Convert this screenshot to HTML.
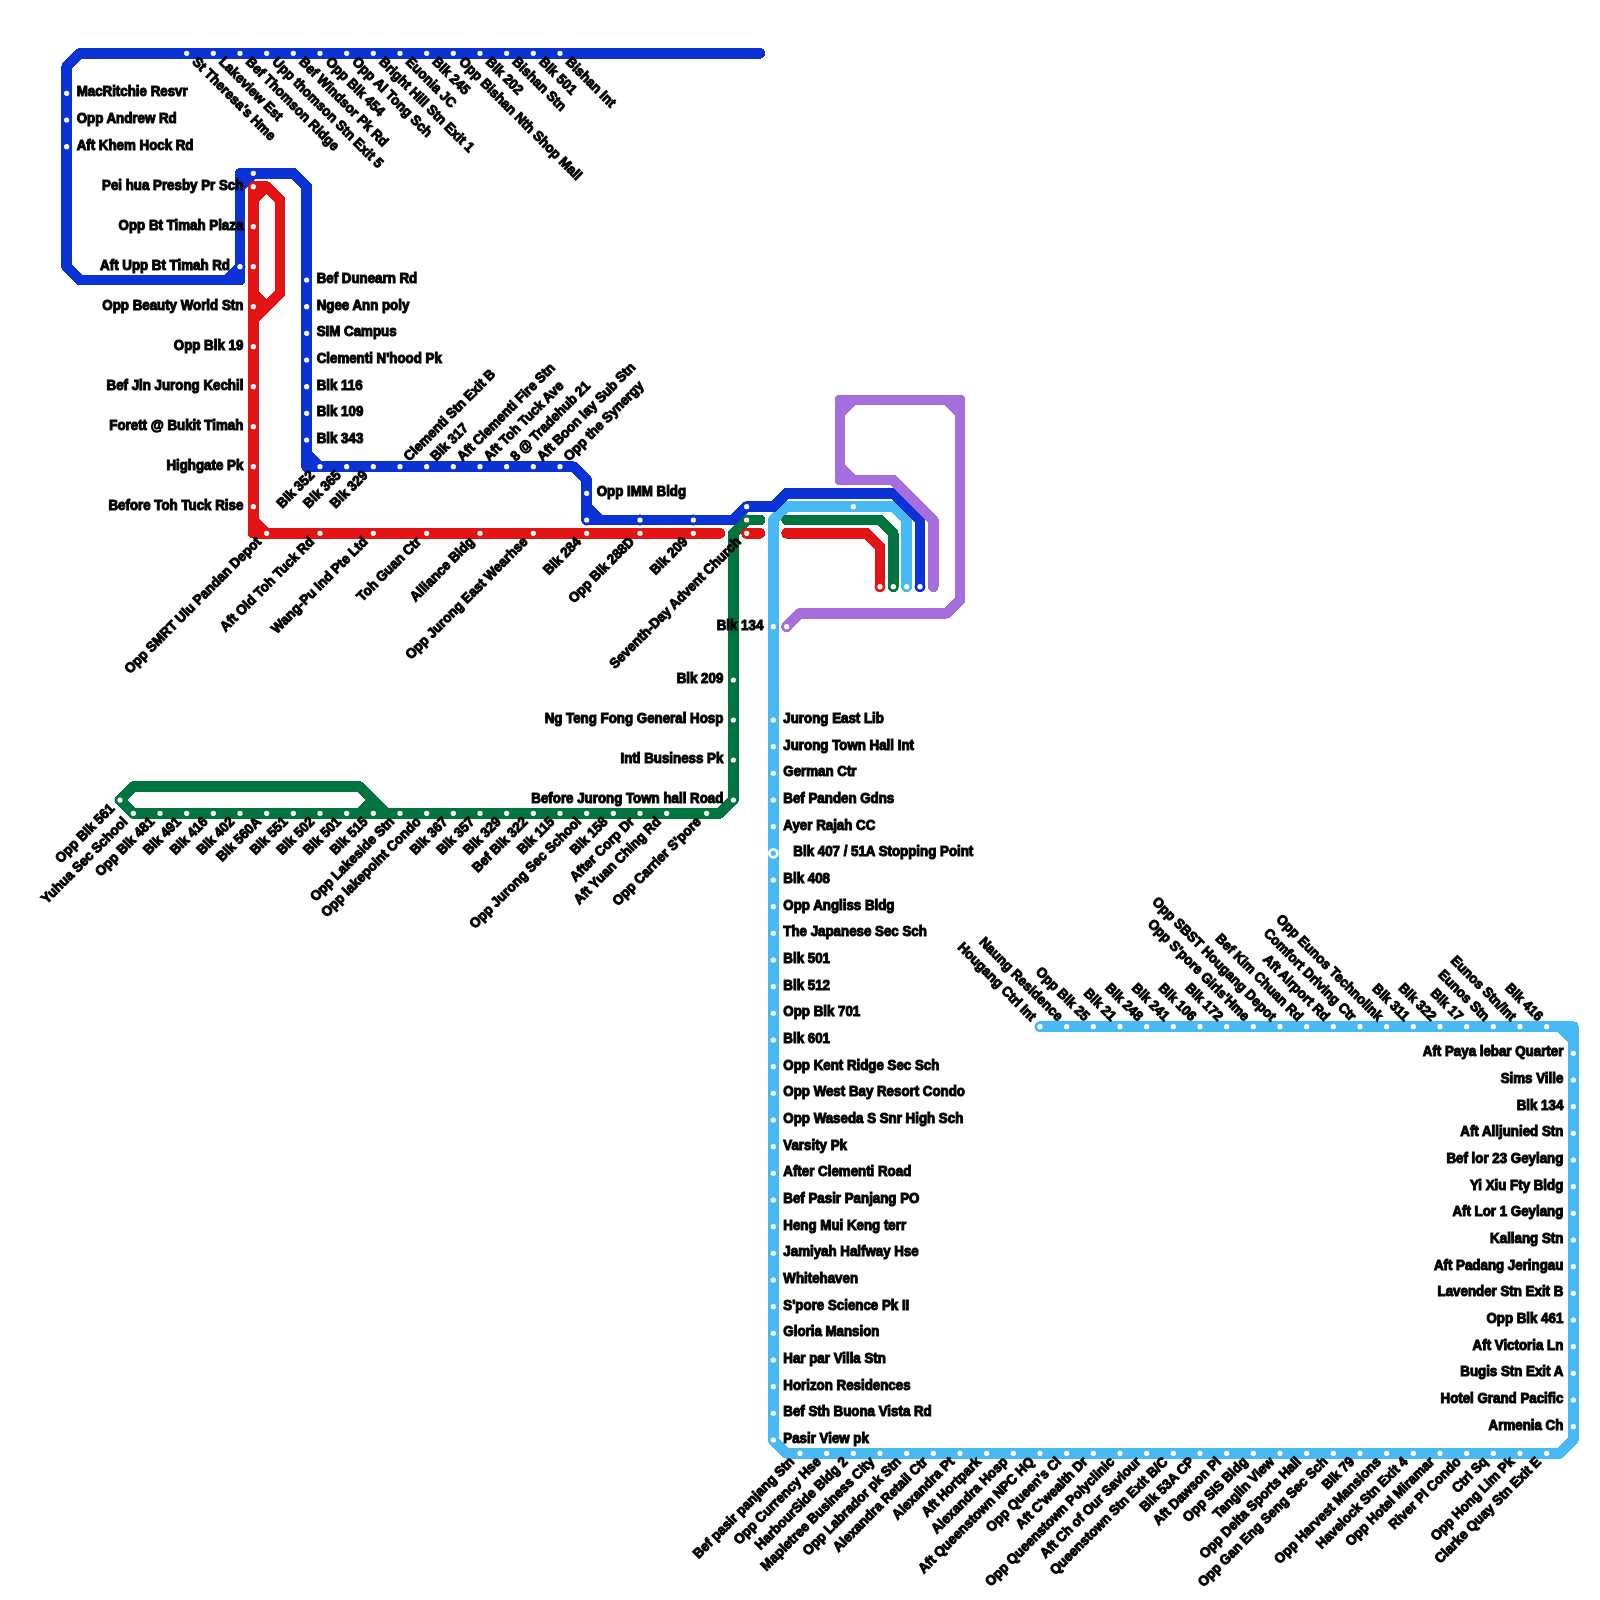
<!DOCTYPE html><html><head><meta charset="utf-8"><style>html,body{margin:0;padding:0;background:#fff;width:1600px;height:1600px;overflow:hidden}svg{display:block}text{font-family:"Liberation Sans",sans-serif;font-weight:700;font-size:13.33px;fill:#000;stroke:#000;stroke-width:1.0}</style></head><body>
<svg width="1600" height="1600" viewBox="0 0 1600 1600">
<rect width="1600" height="1600" fill="#fff"/>
<path d="M773.33 520L773.33 533.33M773.33 520L786.67 506.67M773.33 533.33L773.33 546.67M773.33 546.67L773.33 560M773.33 560L773.33 573.33M773.33 573.33L773.33 586.67M773.33 586.67L773.33 600M773.33 600L773.33 613.33M773.33 613.33L773.33 626.67M773.33 626.67L773.33 640M773.33 640L773.33 653.33M773.33 653.33L773.33 666.67M773.33 666.67L773.33 680M773.33 680L773.33 693.33M773.33 693.33L773.33 706.67M773.33 706.67L773.33 720M773.33 720L773.33 733.33M773.33 733.33L773.33 746.67M773.33 746.67L773.33 760M773.33 760L773.33 773.33M773.33 773.33L773.33 786.67M773.33 786.67L773.33 800M773.33 800L773.33 813.33M773.33 813.33L773.33 826.67M773.33 826.67L773.33 840M773.33 840L773.33 853.33M773.33 853.33L773.33 866.67M773.33 866.67L773.33 880M773.33 880L773.33 893.33M773.33 893.33L773.33 906.67M773.33 906.67L773.33 920M773.33 920L773.33 933.33M773.33 933.33L773.33 946.67M773.33 946.67L773.33 960M773.33 960L773.33 973.33M773.33 973.33L773.33 986.67M773.33 986.67L773.33 1000M773.33 1000L773.33 1013.33M773.33 1013.33L773.33 1026.67M773.33 1026.67L773.33 1040M773.33 1040L773.33 1053.33M773.33 1053.33L773.33 1066.67M773.33 1066.67L773.33 1080M773.33 1080L773.33 1093.33M773.33 1093.33L773.33 1106.67M773.33 1106.67L773.33 1120M773.33 1120L773.33 1133.33M773.33 1133.33L773.33 1146.67M773.33 1146.67L773.33 1160M773.33 1160L773.33 1173.33M773.33 1173.33L773.33 1186.67M773.33 1186.67L773.33 1200M773.33 1200L773.33 1213.33M773.33 1213.33L773.33 1226.67M773.33 1226.67L773.33 1240M773.33 1240L773.33 1253.33M773.33 1253.33L773.33 1266.67M773.33 1266.67L773.33 1280M773.33 1280L773.33 1293.33M773.33 1293.33L773.33 1306.67M773.33 1306.67L773.33 1320M773.33 1320L773.33 1333.33M773.33 1333.33L773.33 1346.67M773.33 1346.67L773.33 1360M773.33 1360L773.33 1373.33M773.33 1373.33L773.33 1386.67M773.33 1386.67L773.33 1400M773.33 1400L773.33 1413.33M773.33 1413.33L773.33 1426.67M773.33 1426.67L773.33 1440M773.33 1440L786.67 1453.33M786.67 506.67L800 506.67M786.67 1453.33L800 1453.33M800 506.67L813.33 506.67M800 1453.33L813.33 1453.33M813.33 506.67L826.67 506.67M813.33 1453.33L826.67 1453.33M826.67 506.67L840 506.67M826.67 1453.33L840 1453.33M840 506.67L853.33 506.67M840 1453.33L853.33 1453.33M853.33 506.67L866.67 506.67M853.33 1453.33L866.67 1453.33M866.67 506.67L880 506.67M866.67 1453.33L880 1453.33M880 506.67L893.33 506.67M880 1453.33L893.33 1453.33M893.33 506.67L906.67 520M893.33 1453.33L906.67 1453.33M906.67 520L906.67 533.33M906.67 533.33L906.67 546.67M906.67 546.67L906.67 560M906.67 560L906.67 573.33M906.67 573.33L906.67 586.67M906.67 1453.33L920 1453.33M920 1453.33L933.33 1453.33M933.33 1453.33L946.67 1453.33M946.67 1453.33L960 1453.33M960 1453.33L973.33 1453.33M973.33 1453.33L986.67 1453.33M986.67 1453.33L1000 1453.33M1000 1453.33L1013.33 1453.33M1013.33 1453.33L1026.67 1453.33M1026.67 1453.33L1040 1453.33M1040 1026.67L1053.33 1026.67M1040 1453.33L1053.33 1453.33M1053.33 1026.67L1066.67 1026.67M1053.33 1453.33L1066.67 1453.33M1066.67 1026.67L1080 1026.67M1066.67 1453.33L1080 1453.33M1080 1026.67L1093.33 1026.67M1080 1453.33L1093.33 1453.33M1093.33 1026.67L1106.67 1026.67M1093.33 1453.33L1106.67 1453.33M1106.67 1026.67L1120 1026.67M1106.67 1453.33L1120 1453.33M1120 1026.67L1133.33 1026.67M1120 1453.33L1133.33 1453.33M1133.33 1026.67L1146.67 1026.67M1133.33 1453.33L1146.67 1453.33M1146.67 1026.67L1160 1026.67M1146.67 1453.33L1160 1453.33M1160 1026.67L1173.33 1026.67M1160 1453.33L1173.33 1453.33M1173.33 1026.67L1186.67 1026.67M1173.33 1453.33L1186.67 1453.33M1186.67 1026.67L1200 1026.67M1186.67 1453.33L1200 1453.33M1200 1026.67L1213.33 1026.67M1200 1453.33L1213.33 1453.33M1213.33 1026.67L1226.67 1026.67M1213.33 1453.33L1226.67 1453.33M1226.67 1026.67L1240 1026.67M1226.67 1453.33L1240 1453.33M1240 1026.67L1253.33 1026.67M1240 1453.33L1253.33 1453.33M1253.33 1026.67L1266.67 1026.67M1253.33 1453.33L1266.67 1453.33M1266.67 1026.67L1280 1026.67M1266.67 1453.33L1280 1453.33M1280 1026.67L1293.33 1026.67M1280 1453.33L1293.33 1453.33M1293.33 1026.67L1306.67 1026.67M1293.33 1453.33L1306.67 1453.33M1306.67 1026.67L1320 1026.67M1306.67 1453.33L1320 1453.33M1320 1026.67L1333.33 1026.67M1320 1453.33L1333.33 1453.33M1333.33 1026.67L1346.67 1026.67M1333.33 1453.33L1346.67 1453.33M1346.67 1026.67L1360 1026.67M1346.67 1453.33L1360 1453.33M1360 1026.67L1373.33 1026.67M1360 1453.33L1373.33 1453.33M1373.33 1026.67L1386.67 1026.67M1373.33 1453.33L1386.67 1453.33M1386.67 1026.67L1400 1026.67M1386.67 1453.33L1400 1453.33M1400 1026.67L1413.33 1026.67M1400 1453.33L1413.33 1453.33M1413.33 1026.67L1426.67 1026.67M1413.33 1453.33L1426.67 1453.33M1426.67 1026.67L1440 1026.67M1426.67 1453.33L1440 1453.33M1440 1026.67L1453.33 1026.67M1440 1453.33L1453.33 1453.33M1453.33 1026.67L1466.67 1026.67M1453.33 1453.33L1466.67 1453.33M1466.67 1026.67L1480 1026.67M1466.67 1453.33L1480 1453.33M1480 1026.67L1493.33 1026.67M1480 1453.33L1493.33 1453.33M1493.33 1026.67L1506.67 1026.67M1493.33 1453.33L1506.67 1453.33M1506.67 1026.67L1520 1026.67M1506.67 1453.33L1520 1453.33M1520 1026.67L1533.33 1026.67M1520 1453.33L1533.33 1453.33M1533.33 1026.67L1546.67 1026.67M1533.33 1453.33L1546.67 1453.33M1546.67 1026.67L1560 1026.67M1546.67 1453.33L1560 1453.33M1560 1026.67L1573.33 1026.67M1560 1026.67L1573.33 1040M1560 1453.33L1573.33 1440M1573.33 1026.67L1573.33 1040M1573.33 1040L1573.33 1053.33M1573.33 1053.33L1573.33 1066.67M1573.33 1066.67L1573.33 1080M1573.33 1080L1573.33 1093.33M1573.33 1093.33L1573.33 1106.67M1573.33 1106.67L1573.33 1120M1573.33 1120L1573.33 1133.33M1573.33 1133.33L1573.33 1146.67M1573.33 1146.67L1573.33 1160M1573.33 1160L1573.33 1173.33M1573.33 1173.33L1573.33 1186.67M1573.33 1186.67L1573.33 1200M1573.33 1200L1573.33 1213.33M1573.33 1213.33L1573.33 1226.67M1573.33 1226.67L1573.33 1240M1573.33 1240L1573.33 1253.33M1573.33 1253.33L1573.33 1266.67M1573.33 1266.67L1573.33 1280M1573.33 1280L1573.33 1293.33M1573.33 1293.33L1573.33 1306.67M1573.33 1306.67L1573.33 1320M1573.33 1320L1573.33 1333.33M1573.33 1333.33L1573.33 1346.67M1573.33 1346.67L1573.33 1360M1573.33 1360L1573.33 1373.33M1573.33 1373.33L1573.33 1386.67M1573.33 1386.67L1573.33 1400M1573.33 1400L1573.33 1413.33M1573.33 1413.33L1573.33 1426.67M1573.33 1426.67L1573.33 1440" stroke="#47baf6" stroke-width="10.67" stroke-linecap="round" fill="none" shape-rendering="crispEdges"/>
<path d="M253.33 186.67L253.33 200M253.33 186.67L266.67 186.67M253.33 200L253.33 213.33M253.33 200L266.67 186.67M253.33 213.33L253.33 226.67M253.33 226.67L253.33 240M253.33 240L253.33 253.33M253.33 253.33L253.33 266.67M253.33 266.67L253.33 280M253.33 280L253.33 293.33M253.33 293.33L253.33 306.67M253.33 293.33L266.67 306.67M253.33 306.67L253.33 320M253.33 306.67L266.67 306.67M253.33 320L253.33 333.33M253.33 320L266.67 306.67M253.33 333.33L253.33 346.67M253.33 346.67L253.33 360M253.33 360L253.33 373.33M253.33 373.33L253.33 386.67M253.33 386.67L253.33 400M253.33 400L253.33 413.33M253.33 413.33L253.33 426.67M253.33 426.67L253.33 440M253.33 440L253.33 453.33M253.33 453.33L253.33 466.67M253.33 466.67L253.33 480M253.33 480L253.33 493.33M253.33 493.33L253.33 506.67M253.33 506.67L253.33 520M253.33 520L253.33 533.33M253.33 520L266.67 533.33M253.33 533.33L266.67 533.33M266.67 186.67L280 200M266.67 306.67L280 293.33M266.67 533.33L280 533.33M280 200L280 213.33M280 213.33L280 226.67M280 226.67L280 240M280 240L280 253.33M280 253.33L280 266.67M280 266.67L280 280M280 280L280 293.33M280 533.33L293.33 533.33M293.33 533.33L306.67 533.33M306.67 533.33L320 533.33M320 533.33L333.33 533.33M333.33 533.33L346.67 533.33M346.67 533.33L360 533.33M360 533.33L373.33 533.33M373.33 533.33L386.67 533.33M386.67 533.33L400 533.33M400 533.33L413.33 533.33M413.33 533.33L426.67 533.33M426.67 533.33L440 533.33M440 533.33L453.33 533.33M453.33 533.33L466.67 533.33M466.67 533.33L480 533.33M480 533.33L493.33 533.33M493.33 533.33L506.67 533.33M506.67 533.33L520 533.33M520 533.33L533.33 533.33M533.33 533.33L546.67 533.33M546.67 533.33L560 533.33M560 533.33L573.33 533.33M573.33 533.33L586.67 533.33M586.67 533.33L600 533.33M600 533.33L613.33 533.33M613.33 533.33L626.67 533.33M626.67 533.33L640 533.33M640 533.33L653.33 533.33M653.33 533.33L666.67 533.33M666.67 533.33L680 533.33M680 533.33L693.33 533.33M693.33 533.33L706.67 533.33M706.67 533.33L720 533.33M746.67 533.33L760 533.33M786.67 533.33L800 533.33M800 533.33L813.33 533.33M813.33 533.33L826.67 533.33M826.67 533.33L840 533.33M840 533.33L853.33 533.33M853.33 533.33L866.67 533.33M866.67 533.33L880 546.67M880 546.67L880 560M880 560L880 573.33M880 573.33L880 586.67" stroke="#e41414" stroke-width="10.67" stroke-linecap="round" fill="none" shape-rendering="crispEdges"/>
<path d="M120 800L133.33 786.67M120 800L133.33 813.33M133.33 786.67L146.67 786.67M133.33 813.33L146.67 813.33M146.67 786.67L160 786.67M146.67 813.33L160 813.33M160 786.67L173.33 786.67M160 813.33L173.33 813.33M173.33 786.67L186.67 786.67M173.33 813.33L186.67 813.33M186.67 786.67L200 786.67M186.67 813.33L200 813.33M200 786.67L213.33 786.67M200 813.33L213.33 813.33M213.33 786.67L226.67 786.67M213.33 813.33L226.67 813.33M226.67 786.67L240 786.67M226.67 813.33L240 813.33M240 786.67L253.33 786.67M240 813.33L253.33 813.33M253.33 786.67L266.67 786.67M253.33 813.33L266.67 813.33M266.67 786.67L280 786.67M266.67 813.33L280 813.33M280 786.67L293.33 786.67M280 813.33L293.33 813.33M293.33 786.67L306.67 786.67M293.33 813.33L306.67 813.33M306.67 786.67L320 786.67M306.67 813.33L320 813.33M320 786.67L333.33 786.67M320 813.33L333.33 813.33M333.33 786.67L346.67 786.67M333.33 813.33L346.67 813.33M346.67 786.67L360 786.67M346.67 813.33L360 813.33M360 786.67L373.33 800M360 813.33L373.33 800M360 813.33L373.33 813.33M373.33 800L373.33 813.33M373.33 800L386.67 813.33M373.33 813.33L386.67 813.33M386.67 813.33L400 813.33M400 813.33L413.33 813.33M413.33 813.33L426.67 813.33M426.67 813.33L440 813.33M440 813.33L453.33 813.33M453.33 813.33L466.67 813.33M466.67 813.33L480 813.33M480 813.33L493.33 813.33M493.33 813.33L506.67 813.33M506.67 813.33L520 813.33M520 813.33L533.33 813.33M533.33 813.33L546.67 813.33M546.67 813.33L560 813.33M560 813.33L573.33 813.33M573.33 813.33L586.67 813.33M586.67 813.33L600 813.33M600 813.33L613.33 813.33M613.33 813.33L626.67 813.33M626.67 813.33L640 813.33M640 813.33L653.33 813.33M653.33 813.33L666.67 813.33M666.67 813.33L680 813.33M680 813.33L693.33 813.33M693.33 813.33L706.67 813.33M706.67 813.33L720 813.33M720 813.33L733.33 800M733.33 533.33L733.33 546.67M733.33 533.33L746.67 520M733.33 546.67L733.33 560M733.33 560L733.33 573.33M733.33 573.33L733.33 586.67M733.33 586.67L733.33 600M733.33 600L733.33 613.33M733.33 613.33L733.33 626.67M733.33 626.67L733.33 640M733.33 640L733.33 653.33M733.33 653.33L733.33 666.67M733.33 666.67L733.33 680M733.33 680L733.33 693.33M733.33 693.33L733.33 706.67M733.33 706.67L733.33 720M733.33 720L733.33 733.33M733.33 733.33L733.33 746.67M733.33 746.67L733.33 760M733.33 760L733.33 773.33M733.33 773.33L733.33 786.67M733.33 786.67L733.33 800M746.67 520L760 520M786.67 520L800 520M800 520L813.33 520M813.33 520L826.67 520M826.67 520L840 520M840 520L853.33 520M853.33 520L866.67 520M866.67 520L880 520M880 520L893.33 533.33M893.33 533.33L893.33 546.67M893.33 546.67L893.33 560M893.33 560L893.33 573.33M893.33 573.33L893.33 586.67" stroke="#00743e" stroke-width="10.67" stroke-linecap="round" fill="none" shape-rendering="crispEdges"/>
<path d="M66.67 66.67L66.67 80M66.67 66.67L80 53.33M66.67 80L66.67 93.33M66.67 93.33L66.67 106.67M66.67 106.67L66.67 120M66.67 120L66.67 133.33M66.67 133.33L66.67 146.67M66.67 146.67L66.67 160M66.67 160L66.67 173.33M66.67 173.33L66.67 186.67M66.67 186.67L66.67 200M66.67 200L66.67 213.33M66.67 213.33L66.67 226.67M66.67 226.67L66.67 240M66.67 240L66.67 253.33M66.67 253.33L66.67 266.67M66.67 266.67L80 280M80 53.33L93.33 53.33M80 280L93.33 280M93.33 53.33L106.67 53.33M93.33 280L106.67 280M106.67 53.33L120 53.33M106.67 280L120 280M120 53.33L133.33 53.33M120 280L133.33 280M133.33 53.33L146.67 53.33M133.33 280L146.67 280M146.67 53.33L160 53.33M146.67 280L160 280M160 53.33L173.33 53.33M160 280L173.33 280M173.33 53.33L186.67 53.33M173.33 280L186.67 280M186.67 53.33L200 53.33M186.67 280L200 280M200 53.33L213.33 53.33M200 280L213.33 280M213.33 53.33L226.67 53.33M213.33 280L226.67 280M226.67 53.33L240 53.33M226.67 280L240 266.67M226.67 280L240 280M240 53.33L253.33 53.33M240 173.33L240 186.67M240 173.33L253.33 173.33M240 186.67L240 200M240 186.67L253.33 173.33M240 200L240 213.33M240 213.33L240 226.67M240 226.67L240 240M240 240L240 253.33M240 253.33L240 266.67M240 266.67L240 280M253.33 53.33L266.67 53.33M253.33 173.33L266.67 173.33M266.67 53.33L280 53.33M266.67 173.33L280 173.33M280 53.33L293.33 53.33M280 173.33L293.33 173.33M293.33 53.33L306.67 53.33M293.33 173.33L306.67 186.67M306.67 53.33L320 53.33M306.67 186.67L306.67 200M306.67 200L306.67 213.33M306.67 213.33L306.67 226.67M306.67 226.67L306.67 240M306.67 240L306.67 253.33M306.67 253.33L306.67 266.67M306.67 266.67L306.67 280M306.67 280L306.67 293.33M306.67 293.33L306.67 306.67M306.67 306.67L306.67 320M306.67 320L306.67 333.33M306.67 333.33L306.67 346.67M306.67 346.67L306.67 360M306.67 360L306.67 373.33M306.67 373.33L306.67 386.67M306.67 386.67L306.67 400M306.67 400L306.67 413.33M306.67 413.33L306.67 426.67M306.67 426.67L306.67 440M306.67 440L306.67 453.33M306.67 453.33L306.67 466.67M306.67 453.33L320 466.67M306.67 466.67L320 466.67M320 53.33L333.33 53.33M320 466.67L333.33 466.67M333.33 53.33L346.67 53.33M333.33 466.67L346.67 466.67M346.67 53.33L360 53.33M346.67 466.67L360 466.67M360 53.33L373.33 53.33M360 466.67L373.33 466.67M373.33 53.33L386.67 53.33M373.33 466.67L386.67 466.67M386.67 53.33L400 53.33M386.67 466.67L400 466.67M400 53.33L413.33 53.33M400 466.67L413.33 466.67M413.33 53.33L426.67 53.33M413.33 466.67L426.67 466.67M426.67 53.33L440 53.33M426.67 466.67L440 466.67M440 53.33L453.33 53.33M440 466.67L453.33 466.67M453.33 53.33L466.67 53.33M453.33 466.67L466.67 466.67M466.67 53.33L480 53.33M466.67 466.67L480 466.67M480 53.33L493.33 53.33M480 466.67L493.33 466.67M493.33 53.33L506.67 53.33M493.33 466.67L506.67 466.67M506.67 53.33L520 53.33M506.67 466.67L520 466.67M520 53.33L533.33 53.33M520 466.67L533.33 466.67M533.33 53.33L546.67 53.33M533.33 466.67L546.67 466.67M546.67 53.33L560 53.33M546.67 466.67L560 466.67M560 53.33L573.33 53.33M560 466.67L573.33 466.67M573.33 53.33L586.67 53.33M573.33 466.67L586.67 480M586.67 53.33L600 53.33M586.67 480L586.67 493.33M586.67 493.33L586.67 506.67M586.67 506.67L586.67 520M586.67 506.67L600 520M586.67 520L600 520M600 53.33L613.33 53.33M600 520L613.33 520M613.33 53.33L626.67 53.33M613.33 520L626.67 520M626.67 53.33L640 53.33M626.67 520L640 520M640 53.33L653.33 53.33M640 520L653.33 520M653.33 53.33L666.67 53.33M653.33 520L666.67 520M666.67 53.33L680 53.33M666.67 520L680 520M680 53.33L693.33 53.33M680 520L693.33 520M693.33 53.33L706.67 53.33M693.33 520L706.67 520M706.67 53.33L720 53.33M706.67 520L720 520M720 53.33L733.33 53.33M720 520L733.33 520M733.33 53.33L746.67 53.33M733.33 520L746.67 506.67M746.67 53.33L760 53.33M746.67 506.67L760 506.67M760 506.67L773.33 506.67M773.33 506.67L786.67 493.33M786.67 493.33L800 493.33M800 493.33L813.33 493.33M813.33 493.33L826.67 493.33M826.67 493.33L840 493.33M840 493.33L853.33 493.33M853.33 493.33L866.67 493.33M866.67 493.33L880 493.33M880 493.33L893.33 493.33M893.33 493.33L906.67 506.67M906.67 506.67L920 520M920 520L920 533.33M920 533.33L920 546.67M920 546.67L920 560M920 560L920 573.33M920 573.33L920 586.67" stroke="#0a32d4" stroke-width="10.67" stroke-linecap="round" fill="none" shape-rendering="crispEdges"/>
<path d="M786.67 626.67L800 613.33M800 613.33L813.33 613.33M813.33 613.33L826.67 613.33M826.67 613.33L840 613.33M840 400L840 413.33M840 400L853.33 400M840 413.33L840 426.67M840 413.33L853.33 400M840 426.67L840 440M840 440L840 453.33M840 453.33L840 466.67M840 466.67L840 480M840 466.67L853.33 480M840 480L853.33 480M840 613.33L853.33 613.33M853.33 400L866.67 400M853.33 480L866.67 480M853.33 613.33L866.67 613.33M866.67 400L880 400M866.67 480L880 480M866.67 613.33L880 613.33M880 400L893.33 400M880 480L893.33 480M880 613.33L893.33 613.33M893.33 400L906.67 400M893.33 480L906.67 493.33M893.33 613.33L906.67 613.33M906.67 400L920 400M906.67 493.33L920 506.67M906.67 613.33L920 613.33M920 400L933.33 400M920 506.67L933.33 520M920 613.33L933.33 613.33M933.33 400L946.67 400M933.33 520L933.33 533.33M933.33 533.33L933.33 546.67M933.33 546.67L933.33 560M933.33 560L933.33 573.33M933.33 573.33L933.33 586.67M933.33 613.33L946.67 613.33M946.67 400L960 400M946.67 400L960 413.33M946.67 613.33L960 600M960 400L960 413.33M960 413.33L960 426.67M960 426.67L960 440M960 440L960 453.33M960 453.33L960 466.67M960 466.67L960 480M960 480L960 493.33M960 493.33L960 506.67M960 506.67L960 520M960 520L960 533.33M960 533.33L960 546.67M960 546.67L960 560M960 560L960 573.33M960 573.33L960 586.67M960 586.67L960 600" stroke="#a66edc" stroke-width="10.67" stroke-linecap="round" fill="none" shape-rendering="crispEdges"/>
<circle cx="186.67" cy="53.33" r="4" fill="#fff" stroke="#0a32d4" stroke-width="2.8"/>
<circle cx="213.33" cy="53.33" r="4" fill="#fff" stroke="#0a32d4" stroke-width="2.8"/>
<circle cx="240" cy="53.33" r="4" fill="#fff" stroke="#0a32d4" stroke-width="2.8"/>
<circle cx="266.67" cy="53.33" r="4" fill="#fff" stroke="#0a32d4" stroke-width="2.8"/>
<circle cx="293.33" cy="53.33" r="4" fill="#fff" stroke="#0a32d4" stroke-width="2.8"/>
<circle cx="320" cy="53.33" r="4" fill="#fff" stroke="#0a32d4" stroke-width="2.8"/>
<circle cx="346.67" cy="53.33" r="4" fill="#fff" stroke="#0a32d4" stroke-width="2.8"/>
<circle cx="373.33" cy="53.33" r="4" fill="#fff" stroke="#0a32d4" stroke-width="2.8"/>
<circle cx="400" cy="53.33" r="4" fill="#fff" stroke="#0a32d4" stroke-width="2.8"/>
<circle cx="426.67" cy="53.33" r="4" fill="#fff" stroke="#0a32d4" stroke-width="2.8"/>
<circle cx="453.33" cy="53.33" r="4" fill="#fff" stroke="#0a32d4" stroke-width="2.8"/>
<circle cx="480" cy="53.33" r="4" fill="#fff" stroke="#0a32d4" stroke-width="2.8"/>
<circle cx="506.67" cy="53.33" r="4" fill="#fff" stroke="#0a32d4" stroke-width="2.8"/>
<circle cx="533.33" cy="53.33" r="4" fill="#fff" stroke="#0a32d4" stroke-width="2.8"/>
<circle cx="560" cy="53.33" r="4" fill="#fff" stroke="#0a32d4" stroke-width="2.8"/>
<circle cx="66.67" cy="93.33" r="4" fill="#fff" stroke="#0a32d4" stroke-width="2.8"/>
<circle cx="66.67" cy="120" r="4" fill="#fff" stroke="#0a32d4" stroke-width="2.8"/>
<circle cx="66.67" cy="146.67" r="4" fill="#fff" stroke="#0a32d4" stroke-width="2.8"/>
<circle cx="253.33" cy="173.33" r="4" fill="#fff" stroke="#0a32d4" stroke-width="2.8"/>
<circle cx="240" cy="266.67" r="4" fill="#fff" stroke="#0a32d4" stroke-width="2.8"/>
<circle cx="253.33" cy="186.67" r="4" fill="#fff" stroke="#e41414" stroke-width="2.8"/>
<circle cx="253.33" cy="226.67" r="4" fill="#fff" stroke="#e41414" stroke-width="2.8"/>
<circle cx="253.33" cy="266.67" r="4" fill="#fff" stroke="#e41414" stroke-width="2.8"/>
<circle cx="253.33" cy="306.67" r="4" fill="#fff" stroke="#e41414" stroke-width="2.8"/>
<circle cx="253.33" cy="346.67" r="4" fill="#fff" stroke="#e41414" stroke-width="2.8"/>
<circle cx="253.33" cy="386.67" r="4" fill="#fff" stroke="#e41414" stroke-width="2.8"/>
<circle cx="253.33" cy="426.67" r="4" fill="#fff" stroke="#e41414" stroke-width="2.8"/>
<circle cx="253.33" cy="466.67" r="4" fill="#fff" stroke="#e41414" stroke-width="2.8"/>
<circle cx="253.33" cy="506.67" r="4" fill="#fff" stroke="#e41414" stroke-width="2.8"/>
<circle cx="306.67" cy="280" r="4" fill="#fff" stroke="#0a32d4" stroke-width="2.8"/>
<circle cx="306.67" cy="306.67" r="4" fill="#fff" stroke="#0a32d4" stroke-width="2.8"/>
<circle cx="306.67" cy="333.33" r="4" fill="#fff" stroke="#0a32d4" stroke-width="2.8"/>
<circle cx="306.67" cy="360" r="4" fill="#fff" stroke="#0a32d4" stroke-width="2.8"/>
<circle cx="306.67" cy="386.67" r="4" fill="#fff" stroke="#0a32d4" stroke-width="2.8"/>
<circle cx="306.67" cy="413.33" r="4" fill="#fff" stroke="#0a32d4" stroke-width="2.8"/>
<circle cx="306.67" cy="440" r="4" fill="#fff" stroke="#0a32d4" stroke-width="2.8"/>
<circle cx="320" cy="466.67" r="4" fill="#fff" stroke="#0a32d4" stroke-width="2.8"/>
<circle cx="346.67" cy="466.67" r="4" fill="#fff" stroke="#0a32d4" stroke-width="2.8"/>
<circle cx="373.33" cy="466.67" r="4" fill="#fff" stroke="#0a32d4" stroke-width="2.8"/>
<circle cx="400" cy="466.67" r="4" fill="#fff" stroke="#0a32d4" stroke-width="2.8"/>
<circle cx="426.67" cy="466.67" r="4" fill="#fff" stroke="#0a32d4" stroke-width="2.8"/>
<circle cx="453.33" cy="466.67" r="4" fill="#fff" stroke="#0a32d4" stroke-width="2.8"/>
<circle cx="480" cy="466.67" r="4" fill="#fff" stroke="#0a32d4" stroke-width="2.8"/>
<circle cx="506.67" cy="466.67" r="4" fill="#fff" stroke="#0a32d4" stroke-width="2.8"/>
<circle cx="533.33" cy="466.67" r="4" fill="#fff" stroke="#0a32d4" stroke-width="2.8"/>
<circle cx="560" cy="466.67" r="4" fill="#fff" stroke="#0a32d4" stroke-width="2.8"/>
<circle cx="586.67" cy="493.33" r="4" fill="#fff" stroke="#0a32d4" stroke-width="2.8"/>
<circle cx="586.67" cy="520" r="4" fill="#fff" stroke="#0a32d4" stroke-width="2.8"/>
<circle cx="640" cy="520" r="4" fill="#fff" stroke="#0a32d4" stroke-width="2.8"/>
<circle cx="693.33" cy="520" r="4" fill="#fff" stroke="#0a32d4" stroke-width="2.8"/>
<circle cx="746.67" cy="506.67" r="4" fill="#fff" stroke="#0a32d4" stroke-width="2.8"/>
<circle cx="266.67" cy="533.33" r="4" fill="#fff" stroke="#e41414" stroke-width="2.8"/>
<circle cx="320" cy="533.33" r="4" fill="#fff" stroke="#e41414" stroke-width="2.8"/>
<circle cx="373.33" cy="533.33" r="4" fill="#fff" stroke="#e41414" stroke-width="2.8"/>
<circle cx="426.67" cy="533.33" r="4" fill="#fff" stroke="#e41414" stroke-width="2.8"/>
<circle cx="480" cy="533.33" r="4" fill="#fff" stroke="#e41414" stroke-width="2.8"/>
<circle cx="533.33" cy="533.33" r="4" fill="#fff" stroke="#e41414" stroke-width="2.8"/>
<circle cx="586.67" cy="533.33" r="4" fill="#fff" stroke="#e41414" stroke-width="2.8"/>
<circle cx="640" cy="533.33" r="4" fill="#fff" stroke="#e41414" stroke-width="2.8"/>
<circle cx="693.33" cy="533.33" r="4" fill="#fff" stroke="#e41414" stroke-width="2.8"/>
<circle cx="746.67" cy="533.33" r="4" fill="#fff" stroke="#e41414" stroke-width="2.8"/>
<circle cx="746.67" cy="520" r="4" fill="#fff" stroke="#00743e" stroke-width="2.8"/>
<circle cx="733.33" cy="680" r="4" fill="#fff" stroke="#00743e" stroke-width="2.8"/>
<circle cx="733.33" cy="720" r="4" fill="#fff" stroke="#00743e" stroke-width="2.8"/>
<circle cx="733.33" cy="760" r="4" fill="#fff" stroke="#00743e" stroke-width="2.8"/>
<circle cx="733.33" cy="800" r="4" fill="#fff" stroke="#00743e" stroke-width="2.8"/>
<circle cx="706.67" cy="813.33" r="4" fill="#fff" stroke="#00743e" stroke-width="2.8"/>
<circle cx="666.67" cy="813.33" r="4" fill="#fff" stroke="#00743e" stroke-width="2.8"/>
<circle cx="640" cy="813.33" r="4" fill="#fff" stroke="#00743e" stroke-width="2.8"/>
<circle cx="613.33" cy="813.33" r="4" fill="#fff" stroke="#00743e" stroke-width="2.8"/>
<circle cx="586.67" cy="813.33" r="4" fill="#fff" stroke="#00743e" stroke-width="2.8"/>
<circle cx="560" cy="813.33" r="4" fill="#fff" stroke="#00743e" stroke-width="2.8"/>
<circle cx="533.33" cy="813.33" r="4" fill="#fff" stroke="#00743e" stroke-width="2.8"/>
<circle cx="506.67" cy="813.33" r="4" fill="#fff" stroke="#00743e" stroke-width="2.8"/>
<circle cx="480" cy="813.33" r="4" fill="#fff" stroke="#00743e" stroke-width="2.8"/>
<circle cx="453.33" cy="813.33" r="4" fill="#fff" stroke="#00743e" stroke-width="2.8"/>
<circle cx="426.67" cy="813.33" r="4" fill="#fff" stroke="#00743e" stroke-width="2.8"/>
<circle cx="400" cy="813.33" r="4" fill="#fff" stroke="#00743e" stroke-width="2.8"/>
<circle cx="373.33" cy="813.33" r="4" fill="#fff" stroke="#00743e" stroke-width="2.8"/>
<circle cx="346.67" cy="813.33" r="4" fill="#fff" stroke="#00743e" stroke-width="2.8"/>
<circle cx="320" cy="813.33" r="4" fill="#fff" stroke="#00743e" stroke-width="2.8"/>
<circle cx="293.33" cy="813.33" r="4" fill="#fff" stroke="#00743e" stroke-width="2.8"/>
<circle cx="266.67" cy="813.33" r="4" fill="#fff" stroke="#00743e" stroke-width="2.8"/>
<circle cx="240" cy="813.33" r="4" fill="#fff" stroke="#00743e" stroke-width="2.8"/>
<circle cx="213.33" cy="813.33" r="4" fill="#fff" stroke="#00743e" stroke-width="2.8"/>
<circle cx="186.67" cy="813.33" r="4" fill="#fff" stroke="#00743e" stroke-width="2.8"/>
<circle cx="160" cy="813.33" r="4" fill="#fff" stroke="#00743e" stroke-width="2.8"/>
<circle cx="133.33" cy="813.33" r="4" fill="#fff" stroke="#00743e" stroke-width="2.8"/>
<circle cx="120" cy="800" r="4" fill="#fff" stroke="#00743e" stroke-width="2.8"/>
<circle cx="880" cy="586.67" r="4" fill="#fff" stroke="#e41414" stroke-width="2.8"/>
<circle cx="893.33" cy="586.67" r="4" fill="#fff" stroke="#00743e" stroke-width="2.8"/>
<circle cx="906.67" cy="586.67" r="4" fill="#fff" stroke="#47baf6" stroke-width="2.8"/>
<circle cx="920" cy="586.67" r="4" fill="#fff" stroke="#0a32d4" stroke-width="2.8"/>
<circle cx="786.67" cy="626.67" r="4" fill="#fff" stroke="#a66edc" stroke-width="2.8"/>
<circle cx="773.33" cy="626.67" r="4" fill="#fff" stroke="#47baf6" stroke-width="2.8"/>
<circle cx="853.33" cy="506.67" r="4" fill="#fff" stroke="#47baf6" stroke-width="2.8"/>
<circle cx="773.33" cy="720" r="4" fill="#fff" stroke="#47baf6" stroke-width="2.8"/>
<circle cx="773.33" cy="746.67" r="4" fill="#fff" stroke="#47baf6" stroke-width="2.8"/>
<circle cx="773.33" cy="773.33" r="4" fill="#fff" stroke="#47baf6" stroke-width="2.8"/>
<circle cx="773.33" cy="800" r="4" fill="#fff" stroke="#47baf6" stroke-width="2.8"/>
<circle cx="773.33" cy="826.67" r="4" fill="#fff" stroke="#47baf6" stroke-width="2.8"/>
<circle cx="773.33" cy="853.33" r="4" fill="#47baf6" stroke="#fff" stroke-width="2.67"/>
<circle cx="773.33" cy="880" r="4" fill="#fff" stroke="#47baf6" stroke-width="2.8"/>
<circle cx="773.33" cy="906.67" r="4" fill="#fff" stroke="#47baf6" stroke-width="2.8"/>
<circle cx="773.33" cy="933.33" r="4" fill="#fff" stroke="#47baf6" stroke-width="2.8"/>
<circle cx="773.33" cy="960" r="4" fill="#fff" stroke="#47baf6" stroke-width="2.8"/>
<circle cx="773.33" cy="986.67" r="4" fill="#fff" stroke="#47baf6" stroke-width="2.8"/>
<circle cx="773.33" cy="1013.33" r="4" fill="#fff" stroke="#47baf6" stroke-width="2.8"/>
<circle cx="773.33" cy="1040" r="4" fill="#fff" stroke="#47baf6" stroke-width="2.8"/>
<circle cx="773.33" cy="1066.67" r="4" fill="#fff" stroke="#47baf6" stroke-width="2.8"/>
<circle cx="773.33" cy="1093.33" r="4" fill="#fff" stroke="#47baf6" stroke-width="2.8"/>
<circle cx="773.33" cy="1120" r="4" fill="#fff" stroke="#47baf6" stroke-width="2.8"/>
<circle cx="773.33" cy="1146.67" r="4" fill="#fff" stroke="#47baf6" stroke-width="2.8"/>
<circle cx="773.33" cy="1173.33" r="4" fill="#fff" stroke="#47baf6" stroke-width="2.8"/>
<circle cx="773.33" cy="1200" r="4" fill="#fff" stroke="#47baf6" stroke-width="2.8"/>
<circle cx="773.33" cy="1226.67" r="4" fill="#fff" stroke="#47baf6" stroke-width="2.8"/>
<circle cx="773.33" cy="1253.33" r="4" fill="#fff" stroke="#47baf6" stroke-width="2.8"/>
<circle cx="773.33" cy="1280" r="4" fill="#fff" stroke="#47baf6" stroke-width="2.8"/>
<circle cx="773.33" cy="1306.67" r="4" fill="#fff" stroke="#47baf6" stroke-width="2.8"/>
<circle cx="773.33" cy="1333.33" r="4" fill="#fff" stroke="#47baf6" stroke-width="2.8"/>
<circle cx="773.33" cy="1360" r="4" fill="#fff" stroke="#47baf6" stroke-width="2.8"/>
<circle cx="773.33" cy="1386.67" r="4" fill="#fff" stroke="#47baf6" stroke-width="2.8"/>
<circle cx="773.33" cy="1413.33" r="4" fill="#fff" stroke="#47baf6" stroke-width="2.8"/>
<circle cx="773.33" cy="1440" r="4" fill="#fff" stroke="#47baf6" stroke-width="2.8"/>
<circle cx="800" cy="1453.33" r="4" fill="#fff" stroke="#47baf6" stroke-width="2.8"/>
<circle cx="826.67" cy="1453.33" r="4" fill="#fff" stroke="#47baf6" stroke-width="2.8"/>
<circle cx="853.33" cy="1453.33" r="4" fill="#fff" stroke="#47baf6" stroke-width="2.8"/>
<circle cx="880" cy="1453.33" r="4" fill="#fff" stroke="#47baf6" stroke-width="2.8"/>
<circle cx="906.67" cy="1453.33" r="4" fill="#fff" stroke="#47baf6" stroke-width="2.8"/>
<circle cx="933.33" cy="1453.33" r="4" fill="#fff" stroke="#47baf6" stroke-width="2.8"/>
<circle cx="960" cy="1453.33" r="4" fill="#fff" stroke="#47baf6" stroke-width="2.8"/>
<circle cx="986.67" cy="1453.33" r="4" fill="#fff" stroke="#47baf6" stroke-width="2.8"/>
<circle cx="1013.33" cy="1453.33" r="4" fill="#fff" stroke="#47baf6" stroke-width="2.8"/>
<circle cx="1040" cy="1453.33" r="4" fill="#fff" stroke="#47baf6" stroke-width="2.8"/>
<circle cx="1066.67" cy="1453.33" r="4" fill="#fff" stroke="#47baf6" stroke-width="2.8"/>
<circle cx="1093.33" cy="1453.33" r="4" fill="#fff" stroke="#47baf6" stroke-width="2.8"/>
<circle cx="1120" cy="1453.33" r="4" fill="#fff" stroke="#47baf6" stroke-width="2.8"/>
<circle cx="1146.67" cy="1453.33" r="4" fill="#fff" stroke="#47baf6" stroke-width="2.8"/>
<circle cx="1173.33" cy="1453.33" r="4" fill="#fff" stroke="#47baf6" stroke-width="2.8"/>
<circle cx="1200" cy="1453.33" r="4" fill="#fff" stroke="#47baf6" stroke-width="2.8"/>
<circle cx="1226.67" cy="1453.33" r="4" fill="#fff" stroke="#47baf6" stroke-width="2.8"/>
<circle cx="1253.33" cy="1453.33" r="4" fill="#fff" stroke="#47baf6" stroke-width="2.8"/>
<circle cx="1280" cy="1453.33" r="4" fill="#fff" stroke="#47baf6" stroke-width="2.8"/>
<circle cx="1306.67" cy="1453.33" r="4" fill="#fff" stroke="#47baf6" stroke-width="2.8"/>
<circle cx="1333.33" cy="1453.33" r="4" fill="#fff" stroke="#47baf6" stroke-width="2.8"/>
<circle cx="1360" cy="1453.33" r="4" fill="#fff" stroke="#47baf6" stroke-width="2.8"/>
<circle cx="1386.67" cy="1453.33" r="4" fill="#fff" stroke="#47baf6" stroke-width="2.8"/>
<circle cx="1413.33" cy="1453.33" r="4" fill="#fff" stroke="#47baf6" stroke-width="2.8"/>
<circle cx="1440" cy="1453.33" r="4" fill="#fff" stroke="#47baf6" stroke-width="2.8"/>
<circle cx="1466.67" cy="1453.33" r="4" fill="#fff" stroke="#47baf6" stroke-width="2.8"/>
<circle cx="1493.33" cy="1453.33" r="4" fill="#fff" stroke="#47baf6" stroke-width="2.8"/>
<circle cx="1520" cy="1453.33" r="4" fill="#fff" stroke="#47baf6" stroke-width="2.8"/>
<circle cx="1546.67" cy="1453.33" r="4" fill="#fff" stroke="#47baf6" stroke-width="2.8"/>
<circle cx="1573.33" cy="1053.33" r="4" fill="#fff" stroke="#47baf6" stroke-width="2.8"/>
<circle cx="1573.33" cy="1080" r="4" fill="#fff" stroke="#47baf6" stroke-width="2.8"/>
<circle cx="1573.33" cy="1106.67" r="4" fill="#fff" stroke="#47baf6" stroke-width="2.8"/>
<circle cx="1573.33" cy="1133.33" r="4" fill="#fff" stroke="#47baf6" stroke-width="2.8"/>
<circle cx="1573.33" cy="1160" r="4" fill="#fff" stroke="#47baf6" stroke-width="2.8"/>
<circle cx="1573.33" cy="1186.67" r="4" fill="#fff" stroke="#47baf6" stroke-width="2.8"/>
<circle cx="1573.33" cy="1213.33" r="4" fill="#fff" stroke="#47baf6" stroke-width="2.8"/>
<circle cx="1573.33" cy="1240" r="4" fill="#fff" stroke="#47baf6" stroke-width="2.8"/>
<circle cx="1573.33" cy="1266.67" r="4" fill="#fff" stroke="#47baf6" stroke-width="2.8"/>
<circle cx="1573.33" cy="1293.33" r="4" fill="#fff" stroke="#47baf6" stroke-width="2.8"/>
<circle cx="1573.33" cy="1320" r="4" fill="#fff" stroke="#47baf6" stroke-width="2.8"/>
<circle cx="1573.33" cy="1346.67" r="4" fill="#fff" stroke="#47baf6" stroke-width="2.8"/>
<circle cx="1573.33" cy="1373.33" r="4" fill="#fff" stroke="#47baf6" stroke-width="2.8"/>
<circle cx="1573.33" cy="1400" r="4" fill="#fff" stroke="#47baf6" stroke-width="2.8"/>
<circle cx="1573.33" cy="1426.67" r="4" fill="#fff" stroke="#47baf6" stroke-width="2.8"/>
<circle cx="1040" cy="1026.67" r="4" fill="#fff" stroke="#47baf6" stroke-width="2.8"/>
<circle cx="1066.67" cy="1026.67" r="4" fill="#fff" stroke="#47baf6" stroke-width="2.8"/>
<circle cx="1093.33" cy="1026.67" r="4" fill="#fff" stroke="#47baf6" stroke-width="2.8"/>
<circle cx="1120" cy="1026.67" r="4" fill="#fff" stroke="#47baf6" stroke-width="2.8"/>
<circle cx="1146.67" cy="1026.67" r="4" fill="#fff" stroke="#47baf6" stroke-width="2.8"/>
<circle cx="1173.33" cy="1026.67" r="4" fill="#fff" stroke="#47baf6" stroke-width="2.8"/>
<circle cx="1200" cy="1026.67" r="4" fill="#fff" stroke="#47baf6" stroke-width="2.8"/>
<circle cx="1226.67" cy="1026.67" r="4" fill="#fff" stroke="#47baf6" stroke-width="2.8"/>
<circle cx="1253.33" cy="1026.67" r="4" fill="#fff" stroke="#47baf6" stroke-width="2.8"/>
<circle cx="1280" cy="1026.67" r="4" fill="#fff" stroke="#47baf6" stroke-width="2.8"/>
<circle cx="1306.67" cy="1026.67" r="4" fill="#fff" stroke="#47baf6" stroke-width="2.8"/>
<circle cx="1333.33" cy="1026.67" r="4" fill="#fff" stroke="#47baf6" stroke-width="2.8"/>
<circle cx="1360" cy="1026.67" r="4" fill="#fff" stroke="#47baf6" stroke-width="2.8"/>
<circle cx="1386.67" cy="1026.67" r="4" fill="#fff" stroke="#47baf6" stroke-width="2.8"/>
<circle cx="1413.33" cy="1026.67" r="4" fill="#fff" stroke="#47baf6" stroke-width="2.8"/>
<circle cx="1440" cy="1026.67" r="4" fill="#fff" stroke="#47baf6" stroke-width="2.8"/>
<circle cx="1466.67" cy="1026.67" r="4" fill="#fff" stroke="#47baf6" stroke-width="2.8"/>
<circle cx="1493.33" cy="1026.67" r="4" fill="#fff" stroke="#47baf6" stroke-width="2.8"/>
<circle cx="1520" cy="1026.67" r="4" fill="#fff" stroke="#47baf6" stroke-width="2.8"/>
<circle cx="1546.67" cy="1026.67" r="4" fill="#fff" stroke="#47baf6" stroke-width="2.8"/>
<g opacity="0.999">
<text transform="translate(186.67 53.33) rotate(45) translate(10 3.1) scale(1 1.04)">St Theresa&#39;s Hme</text>
<text transform="translate(213.33 53.33) rotate(45) translate(10 3.1) scale(1 1.04)">Lakeview Est</text>
<text transform="translate(240 53.33) rotate(45) translate(10 3.1) scale(1 1.04)">Bef Thomson Ridge</text>
<text transform="translate(266.67 53.33) rotate(45) translate(10 3.1) scale(1 1.04)">Upp thomson Stn Exit 5</text>
<text transform="translate(293.33 53.33) rotate(45) translate(10 3.1) scale(1 1.04)">Bef Windsor Pk Rd</text>
<text transform="translate(320 53.33) rotate(45) translate(10 3.1) scale(1 1.04)">Opp Blk 454</text>
<text transform="translate(346.67 53.33) rotate(45) translate(10 3.1) scale(1 1.04)">Opp Al Tong Sch</text>
<text transform="translate(373.33 53.33) rotate(45) translate(10 3.1) scale(1 1.04)">Bright Hill Stn Exit 1</text>
<text transform="translate(400 53.33) rotate(45) translate(10 3.1) scale(1 1.04)">Euonia JC</text>
<text transform="translate(426.67 53.33) rotate(45) translate(10 3.1) scale(1 1.04)">Blk 245</text>
<text transform="translate(453.33 53.33) rotate(45) translate(10 3.1) scale(1 1.04)">Opp Bishan Nth Shop Mall</text>
<text transform="translate(480 53.33) rotate(45) translate(10 3.1) scale(1 1.04)">Blk 202</text>
<text transform="translate(506.67 53.33) rotate(45) translate(10 3.1) scale(1 1.04)">Bishan Stn</text>
<text transform="translate(533.33 53.33) rotate(45) translate(10 3.1) scale(1 1.04)">Blk 501</text>
<text transform="translate(560 53.33) rotate(45) translate(10 3.1) scale(1 1.04)">Bishan Int</text>
<text transform="translate(66.67 93.33) translate(10 3.1) scale(1 1.04)">MacRitchie Resvr</text>
<text transform="translate(66.67 120) translate(10 3.1) scale(1 1.04)">Opp Andrew Rd</text>
<text transform="translate(66.67 146.67) translate(10 3.1) scale(1 1.04)">Aft Khem Hock Rd</text>
<text transform="translate(240 266.67) translate(-10 3.1) scale(1 1.04)" text-anchor="end">Aft Upp Bt Timah Rd</text>
<text transform="translate(253.33 186.67) translate(-10 3.1) scale(1 1.04)" text-anchor="end">Pei hua Presby Pr Sch</text>
<text transform="translate(253.33 226.67) translate(-10 3.1) scale(1 1.04)" text-anchor="end">Opp Bt Timah Plaza</text>
<text transform="translate(253.33 306.67) translate(-10 3.1) scale(1 1.04)" text-anchor="end">Opp Beauty World Stn</text>
<text transform="translate(253.33 346.67) translate(-10 3.1) scale(1 1.04)" text-anchor="end">Opp Blk 19</text>
<text transform="translate(253.33 386.67) translate(-10 3.1) scale(1 1.04)" text-anchor="end">Bef Jln Jurong Kechil</text>
<text transform="translate(253.33 426.67) translate(-10 3.1) scale(1 1.04)" text-anchor="end">Forett @ Bukit Timah</text>
<text transform="translate(253.33 466.67) translate(-10 3.1) scale(1 1.04)" text-anchor="end">Highgate Pk</text>
<text transform="translate(253.33 506.67) translate(-10 3.1) scale(1 1.04)" text-anchor="end">Before Toh Tuck Rise</text>
<text transform="translate(306.67 280) translate(10 3.1) scale(1 1.04)">Bef Dunearn Rd</text>
<text transform="translate(306.67 306.67) translate(10 3.1) scale(1 1.04)">Ngee Ann poly</text>
<text transform="translate(306.67 333.33) translate(10 3.1) scale(1 1.04)">SIM Campus</text>
<text transform="translate(306.67 360) translate(10 3.1) scale(1 1.04)">Clementi N&#39;hood Pk</text>
<text transform="translate(306.67 386.67) translate(10 3.1) scale(1 1.04)">Blk 116</text>
<text transform="translate(306.67 413.33) translate(10 3.1) scale(1 1.04)">Blk 109</text>
<text transform="translate(306.67 440) translate(10 3.1) scale(1 1.04)">Blk 343</text>
<text transform="translate(320 466.67) rotate(-45) translate(-10 3.1) scale(1 1.04)" text-anchor="end">Blk 352</text>
<text transform="translate(346.67 466.67) rotate(-45) translate(-10 3.1) scale(1 1.04)" text-anchor="end">Blk 365</text>
<text transform="translate(373.33 466.67) rotate(-45) translate(-10 3.1) scale(1 1.04)" text-anchor="end">Blk 329</text>
<text transform="translate(400 466.67) rotate(-45) translate(10 3.1) scale(1 1.04)">Clementi Stn Exit B</text>
<text transform="translate(426.67 466.67) rotate(-45) translate(10 3.1) scale(1 1.04)">Blk 317</text>
<text transform="translate(453.33 466.67) rotate(-45) translate(10 3.1) scale(1 1.04)">Aft Clementi Fire Stn</text>
<text transform="translate(480 466.67) rotate(-45) translate(10 3.1) scale(1 1.04)">Aft Toh Tuck Ave</text>
<text transform="translate(506.67 466.67) rotate(-45) translate(10 3.1) scale(1 1.04)">8 @ Tradehub 21</text>
<text transform="translate(533.33 466.67) rotate(-45) translate(10 3.1) scale(1 1.04)">Aft Boon lay Sub Stn</text>
<text transform="translate(560 466.67) rotate(-45) translate(10 3.1) scale(1 1.04)">Opp the Synergy</text>
<text transform="translate(586.67 493.33) translate(10 3.1) scale(1 1.04)">Opp IMM Bldg</text>
<text transform="translate(266.67 533.33) rotate(-45) translate(-10 3.1) scale(1 1.04)" text-anchor="end">Opp SMRT Ulu Pandan Depot</text>
<text transform="translate(320 533.33) rotate(-45) translate(-10 3.1) scale(1 1.04)" text-anchor="end">Aft Old Toh Tuck Rd</text>
<text transform="translate(373.33 533.33) rotate(-45) translate(-10 3.1) scale(1 1.04)" text-anchor="end">Wang-Pu Ind Pte Ltd</text>
<text transform="translate(426.67 533.33) rotate(-45) translate(-10 3.1) scale(1 1.04)" text-anchor="end">Toh Guan Ctr</text>
<text transform="translate(480 533.33) rotate(-45) translate(-10 3.1) scale(1 1.04)" text-anchor="end">Alliance Bldg</text>
<text transform="translate(533.33 533.33) rotate(-45) translate(-10 3.1) scale(1 1.04)" text-anchor="end">Opp Jurong East Wearhse</text>
<text transform="translate(586.67 533.33) rotate(-45) translate(-10 3.1) scale(1 1.04)" text-anchor="end">Blk 284</text>
<text transform="translate(640 533.33) rotate(-45) translate(-10 3.1) scale(1 1.04)" text-anchor="end">Opp Blk 288D</text>
<text transform="translate(693.33 533.33) rotate(-45) translate(-10 3.1) scale(1 1.04)" text-anchor="end">Blk 209</text>
<text transform="translate(746.67 533.33) rotate(-45) translate(-10 3.1) scale(1 1.04)" text-anchor="end">Seventh-Day Advent Church</text>
<text transform="translate(733.33 680) translate(-10 3.1) scale(1 1.04)" text-anchor="end">Blk 209</text>
<text transform="translate(733.33 720) translate(-10 3.1) scale(1 1.04)" text-anchor="end">Ng Teng Fong General Hosp</text>
<text transform="translate(733.33 760) translate(-10 3.1) scale(1 1.04)" text-anchor="end">Intl Business Pk</text>
<text transform="translate(733.33 800) translate(-10 3.1) scale(1 1.04)" text-anchor="end">Before Jurong Town hall Road</text>
<text transform="translate(706.67 813.33) rotate(-45) translate(-10 3.1) scale(1 1.04)" text-anchor="end">Opp Carrier S&#39;pore</text>
<text transform="translate(666.67 813.33) rotate(-45) translate(-10 3.1) scale(1 1.04)" text-anchor="end">Aft Yuan Ching Rd</text>
<text transform="translate(640 813.33) rotate(-45) translate(-10 3.1) scale(1 1.04)" text-anchor="end">After Corp Dr</text>
<text transform="translate(613.33 813.33) rotate(-45) translate(-10 3.1) scale(1 1.04)" text-anchor="end">Blk 158</text>
<text transform="translate(586.67 813.33) rotate(-45) translate(-10 3.1) scale(1 1.04)" text-anchor="end">Opp Jurong Sec School</text>
<text transform="translate(560 813.33) rotate(-45) translate(-10 3.1) scale(1 1.04)" text-anchor="end">Blk 115</text>
<text transform="translate(533.33 813.33) rotate(-45) translate(-10 3.1) scale(1 1.04)" text-anchor="end">Bef Blk 322</text>
<text transform="translate(506.67 813.33) rotate(-45) translate(-10 3.1) scale(1 1.04)" text-anchor="end">Blk 329</text>
<text transform="translate(480 813.33) rotate(-45) translate(-10 3.1) scale(1 1.04)" text-anchor="end">Blk 357</text>
<text transform="translate(453.33 813.33) rotate(-45) translate(-10 3.1) scale(1 1.04)" text-anchor="end">Blk 367</text>
<text transform="translate(426.67 813.33) rotate(-45) translate(-10 3.1) scale(1 1.04)" text-anchor="end">Opp lakepoint Condo</text>
<text transform="translate(400 813.33) rotate(-45) translate(-10 3.1) scale(1 1.04)" text-anchor="end">Opp Lakeside Stn</text>
<text transform="translate(373.33 813.33) rotate(-45) translate(-10 3.1) scale(1 1.04)" text-anchor="end">Blk 515</text>
<text transform="translate(346.67 813.33) rotate(-45) translate(-10 3.1) scale(1 1.04)" text-anchor="end">Blk 501</text>
<text transform="translate(320 813.33) rotate(-45) translate(-10 3.1) scale(1 1.04)" text-anchor="end">Blk 502</text>
<text transform="translate(293.33 813.33) rotate(-45) translate(-10 3.1) scale(1 1.04)" text-anchor="end">Blk 551</text>
<text transform="translate(266.67 813.33) rotate(-45) translate(-10 3.1) scale(1 1.04)" text-anchor="end">Blk 560A</text>
<text transform="translate(240 813.33) rotate(-45) translate(-10 3.1) scale(1 1.04)" text-anchor="end">Blk 402</text>
<text transform="translate(213.33 813.33) rotate(-45) translate(-10 3.1) scale(1 1.04)" text-anchor="end">Blk 416</text>
<text transform="translate(186.67 813.33) rotate(-45) translate(-10 3.1) scale(1 1.04)" text-anchor="end">Blk 491</text>
<text transform="translate(160 813.33) rotate(-45) translate(-10 3.1) scale(1 1.04)" text-anchor="end">Opp Blk 481</text>
<text transform="translate(133.33 813.33) rotate(-45) translate(-10 3.1) scale(1 1.04)" text-anchor="end">Yuhua Sec School</text>
<text transform="translate(120 800) rotate(-45) translate(-10 3.1) scale(1 1.04)" text-anchor="end">Opp Blk 561</text>
<text transform="translate(773.33 626.67) translate(-10 3.1) scale(1 1.04)" text-anchor="end">Blk 134</text>
<text transform="translate(773.33 720) translate(10 3.1) scale(1 1.04)">Jurong East Lib</text>
<text transform="translate(773.33 746.67) translate(10 3.1) scale(1 1.04)">Jurong Town Hall Int</text>
<text transform="translate(773.33 773.33) translate(10 3.1) scale(1 1.04)">German Ctr</text>
<text transform="translate(773.33 800) translate(10 3.1) scale(1 1.04)">Bef Panden Gdns</text>
<text transform="translate(773.33 826.67) translate(10 3.1) scale(1 1.04)">Ayer Rajah CC</text>
<text transform="translate(773.33 853.33) translate(20 3.1) scale(1 1.04)">Blk 407 / 51A Stopping Point</text>
<text transform="translate(773.33 880) translate(10 3.1) scale(1 1.04)">Blk 408</text>
<text transform="translate(773.33 906.67) translate(10 3.1) scale(1 1.04)">Opp Angliss Bldg</text>
<text transform="translate(773.33 933.33) translate(10 3.1) scale(1 1.04)">The Japanese Sec Sch</text>
<text transform="translate(773.33 960) translate(10 3.1) scale(1 1.04)">Blk 501</text>
<text transform="translate(773.33 986.67) translate(10 3.1) scale(1 1.04)">Blk 512</text>
<text transform="translate(773.33 1013.33) translate(10 3.1) scale(1 1.04)">Opp Blk 701</text>
<text transform="translate(773.33 1040) translate(10 3.1) scale(1 1.04)">Blk 601</text>
<text transform="translate(773.33 1066.67) translate(10 3.1) scale(1 1.04)">Opp Kent Ridge Sec Sch</text>
<text transform="translate(773.33 1093.33) translate(10 3.1) scale(1 1.04)">Opp West Bay Resort Condo</text>
<text transform="translate(773.33 1120) translate(10 3.1) scale(1 1.04)">Opp Waseda S Snr High Sch</text>
<text transform="translate(773.33 1146.67) translate(10 3.1) scale(1 1.04)">Varsity Pk</text>
<text transform="translate(773.33 1173.33) translate(10 3.1) scale(1 1.04)">After Clementi Road</text>
<text transform="translate(773.33 1200) translate(10 3.1) scale(1 1.04)">Bef Pasir Panjang PO</text>
<text transform="translate(773.33 1226.67) translate(10 3.1) scale(1 1.04)">Heng Mui Keng terr</text>
<text transform="translate(773.33 1253.33) translate(10 3.1) scale(1 1.04)">Jamiyah Halfway Hse</text>
<text transform="translate(773.33 1280) translate(10 3.1) scale(1 1.04)">Whitehaven</text>
<text transform="translate(773.33 1306.67) translate(10 3.1) scale(1 1.04)">S&#39;pore Science Pk II</text>
<text transform="translate(773.33 1333.33) translate(10 3.1) scale(1 1.04)">Gloria Mansion</text>
<text transform="translate(773.33 1360) translate(10 3.1) scale(1 1.04)">Har par Villa Stn</text>
<text transform="translate(773.33 1386.67) translate(10 3.1) scale(1 1.04)">Horizon Residences</text>
<text transform="translate(773.33 1413.33) translate(10 3.1) scale(1 1.04)">Bef Sth Buona Vista Rd</text>
<text transform="translate(773.33 1440) translate(10 3.1) scale(1 1.04)">Pasir View pk</text>
<text transform="translate(800 1453.33) rotate(-45) translate(-10 3.1) scale(1 1.04)" text-anchor="end">Bef pasir panjang Stn</text>
<text transform="translate(826.67 1453.33) rotate(-45) translate(-10 3.1) scale(1 1.04)" text-anchor="end">Opp Currency Hse</text>
<text transform="translate(853.33 1453.33) rotate(-45) translate(-10 3.1) scale(1 1.04)" text-anchor="end">HarbourSide Bldg 2</text>
<text transform="translate(880 1453.33) rotate(-45) translate(-10 3.1) scale(1 1.04)" text-anchor="end">Mapletree Business City</text>
<text transform="translate(906.67 1453.33) rotate(-45) translate(-10 3.1) scale(1 1.04)" text-anchor="end">Opp Labrador pk Stn</text>
<text transform="translate(933.33 1453.33) rotate(-45) translate(-10 3.1) scale(1 1.04)" text-anchor="end">Alexandra Retail Ctr</text>
<text transform="translate(960 1453.33) rotate(-45) translate(-10 3.1) scale(1 1.04)" text-anchor="end">Alexandra Pt</text>
<text transform="translate(986.67 1453.33) rotate(-45) translate(-10 3.1) scale(1 1.04)" text-anchor="end">Aft Hortpark</text>
<text transform="translate(1013.33 1453.33) rotate(-45) translate(-10 3.1) scale(1 1.04)" text-anchor="end">Alexandra Hosp</text>
<text transform="translate(1040 1453.33) rotate(-45) translate(-10 3.1) scale(1 1.04)" text-anchor="end">Aft Queenstown NPC HQ</text>
<text transform="translate(1066.67 1453.33) rotate(-45) translate(-10 3.1) scale(1 1.04)" text-anchor="end">Opp Queen&#39;s Cl</text>
<text transform="translate(1093.33 1453.33) rotate(-45) translate(-10 3.1) scale(1 1.04)" text-anchor="end">Aft C&#39;wealth Dr</text>
<text transform="translate(1120 1453.33) rotate(-45) translate(-10 3.1) scale(1 1.04)" text-anchor="end">Opp Queenstown Polyclinic</text>
<text transform="translate(1146.67 1453.33) rotate(-45) translate(-10 3.1) scale(1 1.04)" text-anchor="end">Aft Ch of Our Saviour</text>
<text transform="translate(1173.33 1453.33) rotate(-45) translate(-10 3.1) scale(1 1.04)" text-anchor="end">Queenstown Stn Exit B/C</text>
<text transform="translate(1200 1453.33) rotate(-45) translate(-10 3.1) scale(1 1.04)" text-anchor="end">Blk 53A CP</text>
<text transform="translate(1226.67 1453.33) rotate(-45) translate(-10 3.1) scale(1 1.04)" text-anchor="end">Aft Dawson Pl</text>
<text transform="translate(1253.33 1453.33) rotate(-45) translate(-10 3.1) scale(1 1.04)" text-anchor="end">Opp SIS Bldg</text>
<text transform="translate(1280 1453.33) rotate(-45) translate(-10 3.1) scale(1 1.04)" text-anchor="end">Tanglin View</text>
<text transform="translate(1306.67 1453.33) rotate(-45) translate(-10 3.1) scale(1 1.04)" text-anchor="end">Opp Delta Sports Hall</text>
<text transform="translate(1333.33 1453.33) rotate(-45) translate(-10 3.1) scale(1 1.04)" text-anchor="end">Opp Gan Eng Seng Sec Sch</text>
<text transform="translate(1360 1453.33) rotate(-45) translate(-10 3.1) scale(1 1.04)" text-anchor="end">Blk 79</text>
<text transform="translate(1386.67 1453.33) rotate(-45) translate(-10 3.1) scale(1 1.04)" text-anchor="end">Opp Harvest Mansions</text>
<text transform="translate(1413.33 1453.33) rotate(-45) translate(-10 3.1) scale(1 1.04)" text-anchor="end">Havelock Stn Exit 4</text>
<text transform="translate(1440 1453.33) rotate(-45) translate(-10 3.1) scale(1 1.04)" text-anchor="end">Opp Hotel Miramar</text>
<text transform="translate(1466.67 1453.33) rotate(-45) translate(-10 3.1) scale(1 1.04)" text-anchor="end">River Pl Condo</text>
<text transform="translate(1493.33 1453.33) rotate(-45) translate(-10 3.1) scale(1 1.04)" text-anchor="end">Ctrl Sq</text>
<text transform="translate(1520 1453.33) rotate(-45) translate(-10 3.1) scale(1 1.04)" text-anchor="end">Opp Hong Lim Pk</text>
<text transform="translate(1546.67 1453.33) rotate(-45) translate(-10 3.1) scale(1 1.04)" text-anchor="end">Clarke Quay Stn Exit E</text>
<text transform="translate(1573.33 1053.33) translate(-10 3.1) scale(1 1.04)" text-anchor="end">Aft Paya lebar Quarter</text>
<text transform="translate(1573.33 1080) translate(-10 3.1) scale(1 1.04)" text-anchor="end">Sims Ville</text>
<text transform="translate(1573.33 1106.67) translate(-10 3.1) scale(1 1.04)" text-anchor="end">Blk 134</text>
<text transform="translate(1573.33 1133.33) translate(-10 3.1) scale(1 1.04)" text-anchor="end">Aft Alljunied Stn</text>
<text transform="translate(1573.33 1160) translate(-10 3.1) scale(1 1.04)" text-anchor="end">Bef lor 23 Geylang</text>
<text transform="translate(1573.33 1186.67) translate(-10 3.1) scale(1 1.04)" text-anchor="end">Yi Xiu Fty Bldg</text>
<text transform="translate(1573.33 1213.33) translate(-10 3.1) scale(1 1.04)" text-anchor="end">Aft Lor 1 Geylang</text>
<text transform="translate(1573.33 1240) translate(-10 3.1) scale(1 1.04)" text-anchor="end">Kallang Stn</text>
<text transform="translate(1573.33 1266.67) translate(-10 3.1) scale(1 1.04)" text-anchor="end">Aft Padang Jeringau</text>
<text transform="translate(1573.33 1293.33) translate(-10 3.1) scale(1 1.04)" text-anchor="end">Lavender Stn Exit B</text>
<text transform="translate(1573.33 1320) translate(-10 3.1) scale(1 1.04)" text-anchor="end">Opp Blk 461</text>
<text transform="translate(1573.33 1346.67) translate(-10 3.1) scale(1 1.04)" text-anchor="end">Aft Victoria Ln</text>
<text transform="translate(1573.33 1373.33) translate(-10 3.1) scale(1 1.04)" text-anchor="end">Bugis Stn Exit A</text>
<text transform="translate(1573.33 1400) translate(-10 3.1) scale(1 1.04)" text-anchor="end">Hotel Grand Pacific</text>
<text transform="translate(1573.33 1426.67) translate(-10 3.1) scale(1 1.04)" text-anchor="end">Armenia Ch</text>
<text transform="translate(1040 1026.67) rotate(45) translate(-10 3.1) scale(1 1.04)" text-anchor="end">Hougang Ctrl Int</text>
<text transform="translate(1066.67 1026.67) rotate(45) translate(-10 3.1) scale(1 1.04)" text-anchor="end">Naung Residence</text>
<text transform="translate(1093.33 1026.67) rotate(45) translate(-10 3.1) scale(1 1.04)" text-anchor="end">Opp Blk 25</text>
<text transform="translate(1120 1026.67) rotate(45) translate(-10 3.1) scale(1 1.04)" text-anchor="end">Blk 21</text>
<text transform="translate(1146.67 1026.67) rotate(45) translate(-10 3.1) scale(1 1.04)" text-anchor="end">Blk 248</text>
<text transform="translate(1173.33 1026.67) rotate(45) translate(-10 3.1) scale(1 1.04)" text-anchor="end">Blk 241</text>
<text transform="translate(1200 1026.67) rotate(45) translate(-10 3.1) scale(1 1.04)" text-anchor="end">Blk 106</text>
<text transform="translate(1226.67 1026.67) rotate(45) translate(-10 3.1) scale(1 1.04)" text-anchor="end">Blk 172</text>
<text transform="translate(1253.33 1026.67) rotate(45) translate(-10 3.1) scale(1 1.04)" text-anchor="end">Opp S&#39;pore Girls&#39;Hme</text>
<text transform="translate(1280 1026.67) rotate(45) translate(-10 3.1) scale(1 1.04)" text-anchor="end">Opp SBST Hougang Depot</text>
<text transform="translate(1306.67 1026.67) rotate(45) translate(-10 3.1) scale(1 1.04)" text-anchor="end">Bef Kim Chuan Rd</text>
<text transform="translate(1333.33 1026.67) rotate(45) translate(-10 3.1) scale(1 1.04)" text-anchor="end">Aft Airport Rd</text>
<text transform="translate(1360 1026.67) rotate(45) translate(-10 3.1) scale(1 1.04)" text-anchor="end">Comfort Driving Ctr</text>
<text transform="translate(1386.67 1026.67) rotate(45) translate(-10 3.1) scale(1 1.04)" text-anchor="end">Opp Eunos Technolink</text>
<text transform="translate(1413.33 1026.67) rotate(45) translate(-10 3.1) scale(1 1.04)" text-anchor="end">Blk 311</text>
<text transform="translate(1440 1026.67) rotate(45) translate(-10 3.1) scale(1 1.04)" text-anchor="end">Blk 322</text>
<text transform="translate(1466.67 1026.67) rotate(45) translate(-10 3.1) scale(1 1.04)" text-anchor="end">Blk 17</text>
<text transform="translate(1493.33 1026.67) rotate(45) translate(-10 3.1) scale(1 1.04)" text-anchor="end">Eunos Stn</text>
<text transform="translate(1520 1026.67) rotate(45) translate(-10 3.1) scale(1 1.04)" text-anchor="end">Eunos Stn/Int</text>
<text transform="translate(1546.67 1026.67) rotate(45) translate(-10 3.1) scale(1 1.04)" text-anchor="end">Blk 416</text>
</g>
</svg></body></html>
